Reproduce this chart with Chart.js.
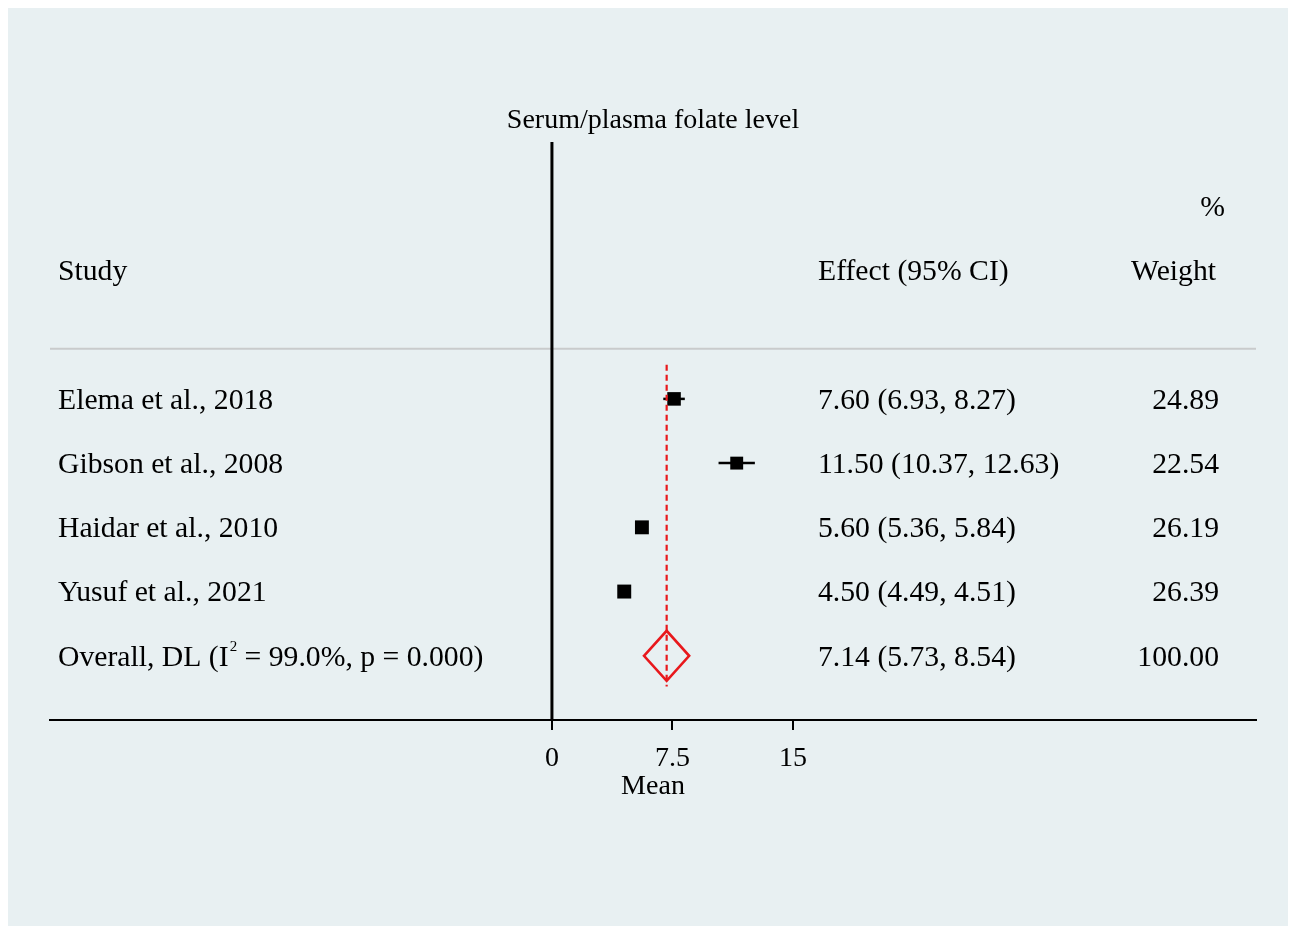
<!DOCTYPE html>
<html>
<head>
<meta charset="utf-8">
<script src="https://cdn.jsdelivr.net/npm/chart.js@4.4.0/dist/chart.umd.min.js"></script>
<style>
  html, body { margin: 0; padding: 0; background: #fff; }
</style>
</head>
<body>
<canvas id="forest" width="1290" height="926"></canvas>
<script>
// data
const studies = ['Elema et al., 2018', 'Gibson et al., 2008', 'Haidar et al., 2010', 'Yusuf et al., 2021'];
const effects = [7.60, 11.50, 5.60, 4.50];
const lowerCI = [6.93, 10.37, 5.36, 4.49];
const upperCI = [8.27, 12.63, 5.84, 4.51];
const weights = [24.89, 22.54, 26.19, 26.39];
const overall = [7.14, 5.73, 8.54];   // estimate, lower, upper
const overallWeight = 100.00;
const xTicks = [0, 7.5, 15];

const SERIF = '"Liberation Serif", "Times New Roman", serif';
const RED = 'rgb(232, 24, 28)';
const TXT = '29.7px ' + SERIF;
const DY = 2; // small nudge so text sits like the original

const fmt = v => v.toFixed(2);

const forestPlugin = {
  id: 'forest',
  beforeDraw(chart) {
    const ctx = chart.ctx;
    ctx.save();
    ctx.fillStyle = '#e8f0f2';
    ctx.fillRect(8, 8, 1280, 918);
    ctx.restore();
  },
  beforeDatasetsDraw(chart) {
    const { ctx, chartArea } = chart;
    const xs = chart.scales.x, ys = chart.scales.y;
    ctx.save();
    // header separator
    ctx.strokeStyle = '#c9cbcc';
    ctx.lineWidth = 2;
    ctx.beginPath();
    ctx.moveTo(chartArea.left, ys.getPixelForValue(0.22));
    ctx.lineTo(chartArea.right, ys.getPixelForValue(0.22));
    ctx.stroke();

    // line of no effect
    ctx.strokeStyle = '#000';
    ctx.lineWidth = 3;
    ctx.beginPath();
    ctx.moveTo(xs.getPixelForValue(0), chartArea.top);
    ctx.lineTo(xs.getPixelForValue(0), chartArea.bottom);
    ctx.stroke();

    // confidence intervals
    ctx.lineWidth = 2.5;
    studies.forEach((s, i) => {
      const y = ys.getPixelForValue(i + 1);
      ctx.beginPath();
      ctx.moveTo(xs.getPixelForValue(lowerCI[i]), y);
      ctx.lineTo(xs.getPixelForValue(upperCI[i]), y);
      ctx.stroke();
    });
    ctx.restore();
  },
  afterDatasetsDraw(chart) {
    const { ctx } = chart;
    const xs = chart.scales.x, ys = chart.scales.y;
    const [est, lo, hi] = overall;
    const row = studies.length + 1;
    ctx.save();

    // overall effect dashed line
    ctx.strokeStyle = RED;
    ctx.lineWidth = 2.2;
    ctx.setLineDash([6, 4]);
    ctx.beginPath();
    ctx.moveTo(xs.getPixelForValue(est), ys.getPixelForValue(0.47));
    ctx.lineTo(xs.getPixelForValue(est), ys.getPixelForValue(row + 0.48));
    ctx.stroke();
    ctx.setLineDash([]);

    // pooled diamond
    const yc = ys.getPixelForValue(row);
    const h = 25;
    ctx.lineWidth = 2.6;
    ctx.lineJoin = 'miter';
    ctx.beginPath();
    ctx.moveTo(xs.getPixelForValue(lo), yc);
    ctx.lineTo(xs.getPixelForValue(est), yc - h);
    ctx.lineTo(xs.getPixelForValue(hi), yc);
    ctx.lineTo(xs.getPixelForValue(est), yc + h);
    ctx.closePath();
    ctx.stroke();
    ctx.restore();
  },
  afterDraw(chart) {
    const { ctx } = chart;
    const ys = chart.scales.y;
    const colStudy = 58, colEffect = 818, colWeight = 1219;
    ctx.save();
    ctx.fillStyle = '#000';
    ctx.textBaseline = 'middle';

    // title
    ctx.font = '28px ' + SERIF;
    ctx.textAlign = 'center';
    ctx.fillText('Serum/plasma folate level', 653, 119 + DY);

    ctx.font = TXT;
    ctx.textAlign = 'right';
    ctx.fillText('%', 1225, ys.getPixelForValue(-2) + DY);
    ctx.fillText('Weight', 1216, ys.getPixelForValue(-1) + DY);
    ctx.textAlign = 'left';
    ctx.fillText('Study', colStudy, ys.getPixelForValue(-1) + DY);
    ctx.fillText('Effect (95% CI)', colEffect, ys.getPixelForValue(-1) + DY);

    studies.forEach((s, i) => {
      const y = ys.getPixelForValue(i + 1) + DY;
      ctx.textAlign = 'left';
      ctx.fillText(s, colStudy, y);
      ctx.fillText(`${fmt(effects[i])} (${fmt(lowerCI[i])}, ${fmt(upperCI[i])})`, colEffect, y);
      ctx.textAlign = 'right';
      ctx.fillText(fmt(weights[i]), colWeight, y);
    });

    // overall row, with superscript 2
    const y = ys.getPixelForValue(studies.length + 1) + DY;
    ctx.textAlign = 'left';
    const part1 = 'Overall, DL (I';
    ctx.fillText(part1, colStudy, y);
    let x = colStudy + ctx.measureText(part1).width + 1;
    ctx.font = '15px ' + SERIF;
    ctx.fillText('2', x, y - 11);
    x += ctx.measureText('2').width;
    ctx.font = TXT;
    ctx.fillText(' = 99.0%, p = 0.000)', x, y);
    ctx.fillText(`${fmt(overall[0])} (${fmt(overall[1])}, ${fmt(overall[2])})`, colEffect, y);
    ctx.textAlign = 'right';
    ctx.fillText(fmt(overallWeight), colWeight, y);
    ctx.restore();
  }
};

new Chart(document.getElementById('forest'), {
  type: 'scatter',
  data: {
    datasets: [{
      data: effects.map((e, i) => ({ x: e, y: i + 1 })),
      pointStyle: 'rect',
      pointRadius: weights.map(w => 9.6 * Math.sqrt(w / 25)),
      backgroundColor: '#000',
      borderWidth: 0
    }]
  },
  options: {
    responsive: false,
    animation: false,
    layout: { padding: { left: 50, right: 34, top: 142, bottom: 0 } },
    plugins: { legend: { display: false }, tooltip: { enabled: false } },
    scales: {
      x: {
        type: 'linear',
        min: -31.24,
        max: 43.82,
        afterBuildTicks: s => { s.ticks = xTicks.map(v => ({ value: v })); },
        afterFit: s => { s.height = 206; },
        grid: { drawOnChartArea: false, drawTicks: true, tickLength: 10, color: '#000', lineWidth: 2 },
        border: { display: true, color: '#000', width: 2 },
        ticks: {
          color: '#000',
          font: { family: SERIF, size: 28 },
          padding: 12,
          autoSkip: false,
          maxRotation: 0,
          callback: v => String(v)
        },
        title: {
          display: true,
          text: 'Mean',
          color: '#000',
          font: { family: SERIF, size: 28 },
          padding: { top: 0, bottom: 123 }
        }
      },
      y: { type: 'linear', min: -3, max: 6, reverse: true, display: false }
    }
  },
  plugins: [forestPlugin]
});
</script>
</body>
</html>
